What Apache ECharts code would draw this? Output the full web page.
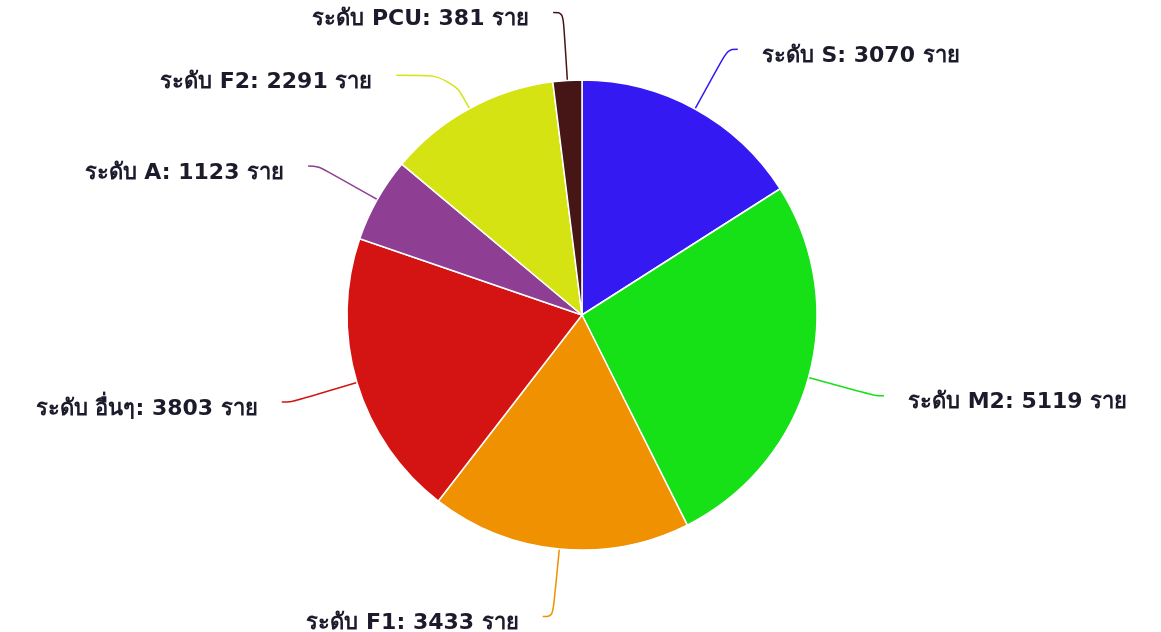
<!DOCTYPE html>
<html>
<head>
<meta charset="utf-8">
<script src="https://cdn.jsdelivr.net/npm/echarts@6/dist/echarts.min.js"></script>
<style>
  html, body { margin: 0; padding: 0; background: #fff; }
  #box { width: 1161px; height: 632px; }
</style>
</head>
<body>
<div id="box"></div>
<script>
// ข้อมูลระดับ
var levels = ['ระดับ S', 'ระดับ M2', 'ระดับ F1', 'ระดับ อื่นๆ', 'ระดับ A', 'ระดับ F2', 'ระดับ PCU'];
var counts = [3070, 5119, 3433, 3803, 1123, 2291, 381];
var colors = ['#3419f3', '#16e016', '#ef9100', '#d41313', '#8e3f93', '#d5e313', '#461515'];

var pieData = [];
for (var i = 0; i < levels.length; i++) {
  var item = { name: levels[i], value: counts[i], itemStyle: { color: colors[i] } };
  // F2 เส้นสั้นกว่า แล้วลากไปทางซ้าย
  if (levels[i] == 'ระดับ F2') item.labelLine = { length: 38, length2: 55 };
  pieData.push(item);
}

var myChart = echarts.init(document.getElementById('box'));
var option = {
  animation: false,
  series: [{
    type: 'pie',
    center: [582, 315],
    radius: 235,
    startAngle: 90,
    clockwise: true,
    avoidLabelOverlap: false,
    itemStyle: { borderColor: '#fff', borderWidth: 1.5 },
    label: {
      formatter: '{t|{b}: {c} ราย}',
      distanceToLabelLine: 24,
      rich: {
        t: {
          color: '#1b1b2b',
          fontSize: 22,
          fontWeight: 'bold',
          fontFamily: '"DejaVu Sans", Tahoma, sans-serif',
          padding: [14, 0, 0, 0]
        }
      }
    },
    labelLine: { length: 68, length2: 10, smooth: 0.4, lineStyle: { width: 1.5 } },
    data: pieData
  }]
};
myChart.setOption(option);
</script>
</body>
</html>
